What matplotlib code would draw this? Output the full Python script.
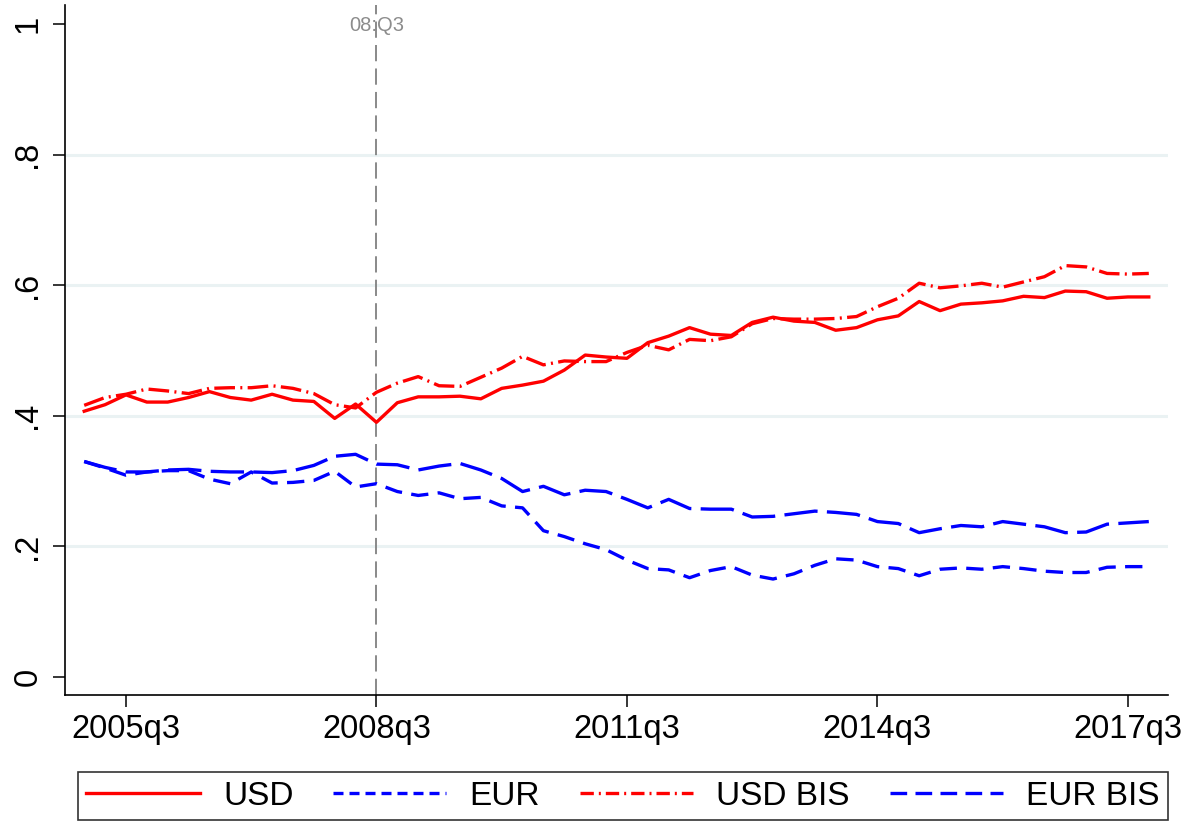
import matplotlib
matplotlib.use('Agg')
import matplotlib.pyplot as plt
from matplotlib.lines import Line2D

quarters = [f'{y}q{q}' for y in range(2005, 2018) for q in range(1, 5)]
tick_labels = ['2005q3', '2008q3', '2011q3', '2014q3', '2017q3']
y_ticks = [0, 0.2, 0.4, 0.6, 0.8, 1.0]
y_tick_labels = ['0', '.2', '.4', '.6', '.8', '1']
event_quarter = '2008q3'
event_label = '08:Q3'

usd = [0.407, 0.417, 0.432, 0.421, 0.421, 0.428, 0.437, 0.428, 0.424, 0.433,
       0.424, 0.422, 0.396, 0.418, 0.390, 0.420, 0.429, 0.429, 0.430, 0.426,
       0.442, 0.447, 0.453, 0.470, 0.493, 0.490, 0.488, 0.512, 0.522, 0.535,
       0.525, 0.523, 0.543, 0.551, 0.545, 0.543, 0.531, 0.535, 0.547, 0.553,
       0.575, 0.561, 0.571, 0.573, 0.576, 0.583, 0.581, 0.591, 0.590, 0.580,
       0.582, 0.582]
eur = [0.330, 0.320, 0.309, 0.314, 0.316, 0.316, 0.303, 0.296, 0.314, 0.297,
       0.298, 0.301, 0.315, 0.291, 0.296, 0.284, 0.278, 0.282, 0.273, 0.275,
       0.262, 0.259, 0.224, 0.215, 0.204, 0.195, 0.179, 0.166, 0.164, 0.152,
       0.163, 0.169, 0.156, 0.150, 0.158, 0.171, 0.181, 0.179, 0.169, 0.166,
       0.155, 0.165, 0.167, 0.165, 0.169, 0.166, 0.162, 0.160, 0.160, 0.168,
       0.169, 0.169]
usd_bis = [0.416, 0.428, 0.433, 0.441, 0.438, 0.434, 0.442, 0.443, 0.443, 0.446,
           0.442, 0.434, 0.417, 0.412, 0.436, 0.450, 0.460, 0.446, 0.445, 0.459,
           0.473, 0.491, 0.478, 0.484, 0.483, 0.483, 0.497, 0.508, 0.501, 0.517,
           0.515, 0.521, 0.541, 0.549, 0.548, 0.548, 0.549, 0.552, 0.567, 0.580,
           0.603, 0.596, 0.599, 0.603, 0.597, 0.605, 0.613, 0.630, 0.628, 0.618,
           0.617, 0.618]
eur_bis = [0.330, 0.321, 0.314, 0.314, 0.317, 0.318, 0.315, 0.314, 0.314, 0.313,
           0.316, 0.324, 0.338, 0.341, 0.326, 0.325, 0.317, 0.323, 0.327, 0.317,
           0.304, 0.284, 0.292, 0.279, 0.286, 0.284, 0.272, 0.259, 0.272, 0.258,
           0.257, 0.257, 0.245, 0.246, 0.250, 0.254, 0.252, 0.249, 0.238, 0.235,
           0.221, 0.227, 0.232, 0.230, 0.238, 0.234, 0.230, 0.221, 0.222, 0.234,
           0.236, 0.238]

plt.rcParams['font.family'] = ['Liberation Sans', 'DejaVu Sans']


def main():
    fig = plt.figure(figsize=(11.86, 8.22), dpi=100)
    ax = fig.add_axes([65 / 1186, 1 - 695 / 822, (1168 - 65) / 1186, 690 / 822])

    x = list(range(len(quarters)))
    ax.plot(x, usd, color='#FF0000', lw=2.4, label='USD')
    ax.plot(x, eur, color='#0000FF', lw=2.4, dashes=(5.2, 2.8), label='EUR')
    ax.plot(x, usd_bis, color='#FF0000', lw=2.4, dashes=(6.2, 1.6, 0.6, 1.6), label='USD BIS')
    ax.plot(x, eur_bis, color='#0000FF', lw=2.4, dashes=(10, 2.8), label='EUR BIS')

    ev = quarters.index(event_quarter)
    ax.axvline(ev, color='#808080', lw=1.3, dashes=(9, 4), zorder=1)
    ax.text(ev, 0.998, event_label, ha='center', va='center', color='#8C8C8C', fontsize=14.5)

    ax.set_xlim(-0.92, 51.92)
    ax.set_ylim(-0.0276, 1.0291)
    ax.set_xticks([quarters.index(t) for t in tick_labels])
    ax.set_xticklabels(tick_labels)
    ax.set_yticks(y_ticks)
    ax.set_yticklabels(y_tick_labels, rotation=90, va='center')

    for v in y_ticks[1:-1]:
        ax.axhline(v, color='#EAF2F3', lw=2.2, zorder=0)

    for s in ['top', 'right']:
        ax.spines[s].set_visible(False)
    for s in ['left', 'bottom']:
        ax.spines[s].set_linewidth(1.2)
    ax.tick_params(axis='both', length=8.5, width=1.1, labelsize=23.5, direction='out')
    ax.tick_params(axis='x', pad=5)
    ax.tick_params(axis='y', pad=7)

    handles = [
        Line2D([], [], color='#FF0000', lw=2.4),
        Line2D([], [], color='#0000FF', lw=2.4, dashes=(3, 1.8)),
        Line2D([], [], color='#FF0000', lw=2.4, dashes=(4, 1.5, 0.6, 1.5)),
        Line2D([], [], color='#0000FF', lw=2.4, dashes=(5, 2.5)),
    ]
    leg = fig.legend(handles, ['USD', 'EUR', 'USD BIS', 'EUR BIS'], ncol=4,
                     loc='lower left', mode='expand',
                     bbox_to_anchor=(78 / 1186, 2 / 822, 1090 / 1186, 55 / 822),
                     fontsize=24, handlelength=3.4, handletextpad=0.7,
                     fancybox=False, borderpad=0.25, borderaxespad=0)
    leg.get_frame().set_edgecolor('black')
    leg.get_frame().set_linewidth(1.2)

    fig.savefig('out.png', dpi=100)


if __name__ == '__main__':
    main()
